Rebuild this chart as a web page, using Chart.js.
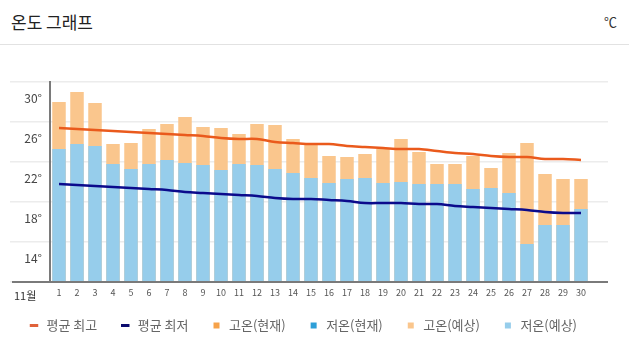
<!DOCTYPE html>
<html><head><meta charset="utf-8">
<script src="https://cdn.jsdelivr.net/npm/chart.js@4.4.1/dist/chart.umd.min.js"></script>
<style>
html,body{margin:0;padding:0;background:#fff;width:629px;height:356px;overflow:hidden;font-family:'Noto Sans CJK KR','Noto Sans',sans-serif;}
#title{position:absolute;left:11px;top:10px;font-size:17px;line-height:24px;color:#222;}
#unit{position:absolute;right:12px;top:12px;font-size:13px;line-height:20px;color:#333;}
#sep{position:absolute;left:0;top:44px;width:629px;height:1px;background:#e2e2e2;}
#wrap{position:absolute;left:0;top:45px;width:629px;height:311px;}
</style></head><body>
<div id="title">온도 그래프</div><div id="unit">℃</div><div id="sep"></div>
<div id="wrap"><canvas id="c" width="629" height="311"></canvas></div>
<script>
const monthLabel = '11월';
const days = ['1','2','3','4','5','6','7','8','9','10','11','12','13','14','15','16','17','18','19','20','21','22','23','24','25','26','27','28','29','30',''];
const avgHigh = [27.4,27.3,27.2,27.1,27.0,26.9,26.8,26.7,26.6,26.4,26.3,26.3,26.0,25.9,25.8,25.8,25.6,25.5,25.4,25.3,25.3,25.1,24.9,24.8,24.6,24.5,24.5,24.3,24.3,24.2];
const avgLow = [21.8,21.7,21.6,21.5,21.4,21.3,21.2,21.0,20.9,20.8,20.7,20.6,20.4,20.3,20.3,20.2,20.1,19.9,19.9,19.9,19.8,19.8,19.6,19.5,19.4,19.3,19.2,19.0,18.9,18.9];
const highNow = [];
const lowNow = [];
const highForecast = [30.0,31.0,29.9,25.8,25.9,27.3,27.8,28.5,27.5,27.4,26.8,27.8,27.7,26.3,25.8,24.6,24.5,24.8,25.3,26.3,25.0,23.8,23.8,24.6,23.4,24.9,25.9,22.8,22.3,22.3];
const lowForecast = [25.3,25.8,25.6,23.8,23.3,23.8,24.2,23.9,23.7,23.2,23.8,23.7,23.3,22.9,22.4,21.9,22.3,22.4,21.9,22.0,21.8,21.8,21.8,21.3,21.4,20.9,15.8,17.7,17.7,19.3];
const seriesNames = ['평균 최고','평균 최저','고온(현재)','저온(현재)','고온(예상)','저온(예상)'];

const extras = {
  id: 'extras',
  afterDatasetsDraw(chart) {
    const ctx = chart.ctx, a = chart.chartArea;
    ctx.save();
    ctx.strokeStyle = '#7a7a7a';
    ctx.lineWidth = 2;
    ctx.beginPath();
    ctx.moveTo(12, a.bottom);
    ctx.lineTo(a.right, a.bottom);
    ctx.stroke();
    ctx.fillStyle = '#333';
    ctx.font = "11px 'Noto Sans CJK KR'";
    ctx.textBaseline = 'middle';
    ctx.textAlign = 'left';
    ctx.fillText(monthLabel, 14, a.bottom + 14);
    ctx.restore();
  }
};

Chart.defaults.font.family = "'Noto Sans CJK KR','Noto Sans',sans-serif";

new Chart(document.getElementById('c'), {
  data: {
    labels: days,
    datasets: [
      {type:'line', label: seriesNames[0], data: avgHigh, borderColor:'#ea5a1c', backgroundColor:'#ea5a1c', borderWidth:2.5, pointRadius:0, tension:0.35, order:0, legendColor:'#e0623a'},
      {type:'line', label: seriesNames[1], data: avgLow, borderColor:'#0b0b8c', backgroundColor:'#0b0b8c', borderWidth:2.5, pointRadius:0, tension:0.35, order:0, legendColor:'#0b0b6e'},
      {type:'bar', label: seriesNames[2], data: highNow, backgroundColor:'#f6a24a', order:3, legendColor:'#f6a24a'},
      {type:'bar', label: seriesNames[3], data: lowNow, backgroundColor:'#2d9fd8', order:2, legendColor:'#2d9fd8'},
      {type:'bar', label: seriesNames[4], data: highForecast, backgroundColor:'#fac68d', order:5, legendColor:'#fac68d'},
      {type:'bar', label: seriesNames[5], data: lowForecast, backgroundColor:'#96cdeb', order:4, legendColor:'#96cdeb'}
    ]
  },
  options: {
    responsive: false,
    animation: false,
    layout: { padding: { top: 37, left: 6, right: 21, bottom: 14 } },
    datasets: { bar: { grouped: false, barPercentage: 0.75, categoryPercentage: 1.0 } },
    plugins: {
      tooltip: { enabled: false },
      legend: {
        position: 'bottom',
        align: 'start',
        labels: {
          usePointStyle: true,
          boxWidth: 12,
          boxHeight: 6,
          padding: 22,
          color: '#666',
          font: { size: 13 },
          generateLabels(chart) {
            return chart.data.datasets.map((ds, i) => ({
              text: ds.label,
              fillStyle: ds.legendColor,
              strokeStyle: ds.legendColor,
              lineWidth: ds.type === 'line' ? 3 : 0,
              pointStyle: ds.type === 'line' ? 'line' : 'rect',
              hidden: false,
              datasetIndex: i,
              fontColor: '#666'
            }));
          }
        }
      }
    },
    scales: {
      x: {
        offset: true,
        grid: { display: false, drawTicks: false },
        border: { display: false },
        ticks: { autoSkip: false, maxRotation: 0, padding: 5, color: '#555', font: { size: 9 } },
        afterFit(s) { s.height = 15; }
      },
      y: {
        min: 12, max: 32,
        afterFit(s) { s.width = 44; },
        border: { display: true, color: '#7a7a7a', width: 2 },
        grid: {
          drawTicks: true, tickLength: 40,
          color: c => (c.tick && c.tick.value % 4 === 0) ? '#ececec' : 'rgba(0,0,0,0)',
          tickColor: c => (c.tick && c.tick.value % 4 === 0) ? '#ececec' : 'rgba(0,0,0,0)',
          lineWidth: 1.5
        },
        ticks: {
          stepSize: 2, padding: -32, labelOffset: -4, color: '#444', font: { size: 12 },
          callback: v => (v % 4 === 2) ? v + '°' : ''
        }
      }
    }
  },
  plugins: [extras]
});
</script>
</body></html>
